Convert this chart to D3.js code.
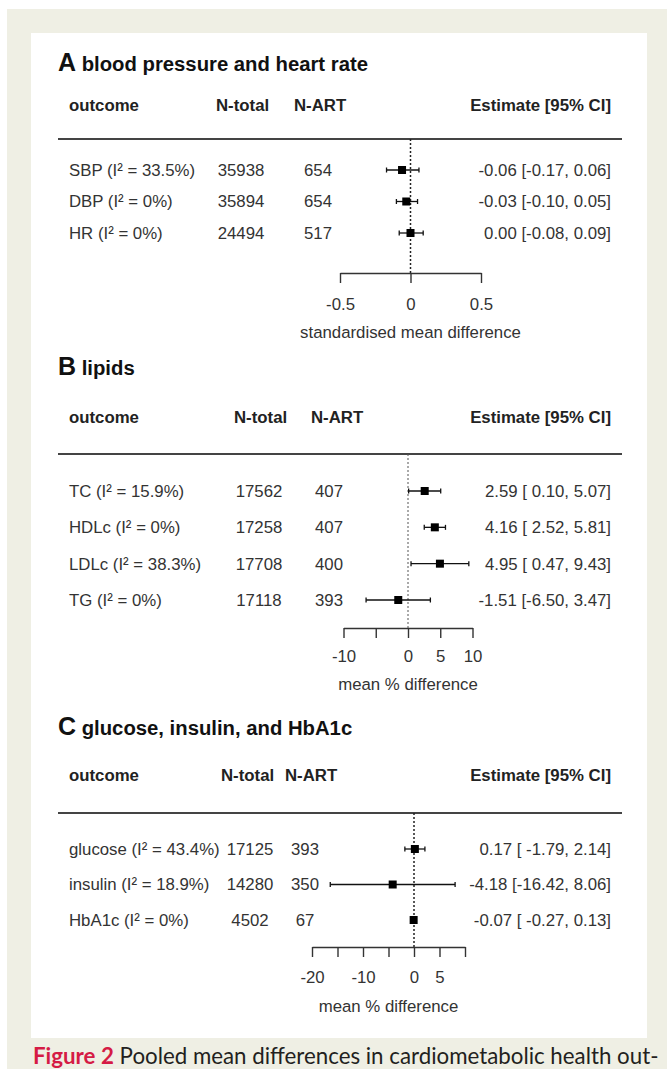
<!DOCTYPE html>
<meta charset="utf-8">
<head>
	<script type="text/javascript" src="https://cdn.jsdelivr.net/npm/d3@7"></script>
	<style>
		body { margin: 0; background: #fff; }
		text { font-family: "Liberation Sans", Arial, sans-serif; white-space: pre; }
	</style>
</head>
<body>
	<svg id="chart" width="667" height="1069"></svg>
</body>
<script type="text/javascript">
	// A: blood pressure and heart rate
	var bpOutcomes = ["SBP", "DBP", "HR"];
	var bpI2 = [33.5, 0, 0];
	var bpNTotal = [35938, 35894, 24494];
	var bpNArt = [654, 654, 517];
	var bpEst = [-0.06, -0.03, 0.00];
	var bpLo = [-0.17, -0.10, -0.08];
	var bpHi = [0.06, 0.05, 0.09];
	var bpTicks = [-0.5, 0, 0.5];
	var bpTickLabels = [-0.5, 0, 0.5];

	// B: lipids
	var lipOutcomes = ["TC", "HDLc", "LDLc", "TG"];
	var lipI2 = [15.9, 0, 38.3, 0];
	var lipNTotal = [17562, 17258, 17708, 17118];
	var lipNArt = [407, 407, 400, 393];
	var lipEst = [2.59, 4.16, 4.95, -1.51];
	var lipLo = [0.10, 2.52, 0.47, -6.50];
	var lipHi = [5.07, 5.81, 9.43, 3.47];
	var lipTicks = [-10, -5, 0, 5, 10];
	var lipTickLabels = [-10, 0, 5, 10];

	// C: glucose, insulin, HbA1c
	var gluOutcomes = ["glucose", "insulin", "HbA1c"];
	var gluI2 = [43.4, 18.9, 0];
	var gluNTotal = [17125, 14280, 4502];
	var gluNArt = [393, 350, 67];
	var gluEst = [0.17, -4.18, -0.07];
	var gluLo = [-1.79, -16.42, -0.27];
	var gluHi = [2.14, 8.06, 0.13];
	var gluTicks = [-20, -15, -10, -5, 0, 5, 10];
	var gluTickLabels = [-20, -10, 0, 5];

	var svg = d3.select("#chart");
	var fs = 16.8;

	// page frame
	svg.append("rect").attr("x", 7).attr("y", 9).attr("width", 660).attr("height", 1060).attr("fill", "#efefe4");
	svg.append("rect").attr("x", 31).attr("y", 33).attr("width", 616).attr("height", 1005).attr("fill", "#fff");

	var panels = [
		{letter: "A", title: "blood pressure and heart rate", outcomes: bpOutcomes, i2: bpI2, ntot: bpNTotal, nart: bpNArt,
		 est: bpEst, lo: bpLo, hi: bpHi, ticks: bpTicks, tickLabels: bpTickLabels, axisTitle: "standardised mean difference",
		 xRange: [340, 481], titleY: 71, headY: 111, ruleY: 139, rows: [170, 233], axisY: 273, pad: 15, axisTitleY: 338,
		 ntHead: 216, ntX: 241, naHead: 294, naX: 318, zeroColor: "#222", zeroWidth: 1.5},
		{letter: "B", title: "lipids", outcomes: lipOutcomes, i2: lipI2, ntot: lipNTotal, nart: lipNArt,
		 est: lipEst, lo: lipLo, hi: lipHi, ticks: lipTicks, tickLabels: lipTickLabels, axisTitle: "mean % difference",
		 xRange: [343.5, 472.5], titleY: 375, headY: 423, ruleY: 454, rows: [491, 600], axisY: 628, pad: 12, axisTitleY: 690,
		 ntHead: 234, ntX: 259, naHead: 311, naX: 329, zeroColor: "#555", zeroWidth: 1},
		{letter: "C", title: "glucose, insulin, and HbA1c", outcomes: gluOutcomes, i2: gluI2, ntot: gluNTotal, nart: gluNArt,
		 est: gluEst, lo: gluLo, hi: gluHi, ticks: gluTicks, tickLabels: gluTickLabels, axisTitle: "mean % difference",
		 xRange: [312, 465], titleY: 735, headY: 781, ruleY: 813, rows: [849, 920], axisY: 947, pad: 14, axisTitleY: 1012,
		 ntHead: 221, ntX: 250, naHead: 285, naX: 305, zeroColor: "#222", zeroWidth: 1.5}
	];

	function fmt(v) { return v.toFixed(2); }
	function padTo(arr) {
		var w = d3.max(arr, function(v) { return fmt(v).length; });
		return arr.map(function(v) { return fmt(v).padStart(w, " "); });
	}

	panels.forEach(function(p) {
		var g = svg.append("g");
		var n = p.outcomes.length;

		var x = d3.scaleLinear().domain(d3.extent(p.ticks)).range(p.xRange);
		var y = d3.scalePoint().domain(d3.range(n)).range(p.rows);

		// title
		var t = g.append("text").attr("x", 58).attr("y", p.titleY).attr("fill", "#111").attr("font-weight", "bold");
		t.append("tspan").attr("font-size", 25).text(p.letter);
		t.append("tspan").attr("font-size", 20.3).text(" " + p.title);

		// header
		var head = g.append("g").attr("font-weight", "bold").attr("font-size", fs).attr("fill", "#222");
		head.append("text").attr("x", 69).attr("y", p.headY).text("outcome");
		head.append("text").attr("x", p.ntHead).attr("y", p.headY).text("N-total");
		head.append("text").attr("x", p.naHead).attr("y", p.headY).text("N-ART");
		head.append("text").attr("x", 611).attr("y", p.headY).attr("text-anchor", "end").text("Estimate [95% CI]");

		g.append("line").attr("x1", 58).attr("x2", 622).attr("y1", p.ruleY).attr("y2", p.ruleY)
			.attr("stroke", "#444").attr("stroke-width", 2);

		// text columns
		var loTxt = padTo(p.lo), hiTxt = padTo(p.hi);
		var rows = g.append("g").attr("font-size", fs).attr("fill", "#333");
		d3.range(n).forEach(function(i) {
			var yy = y(i);
			rows.append("text").attr("x", 69).attr("y", yy).attr("dy", "0.35em")
				.text(p.outcomes[i] + " (I\u00b2 = " + p.i2[i] + "%)");
			rows.append("text").attr("x", p.ntX).attr("y", yy).attr("dy", "0.35em").attr("text-anchor", "middle").text(p.ntot[i]);
			rows.append("text").attr("x", p.naX).attr("y", yy).attr("dy", "0.35em").attr("text-anchor", "middle").text(p.nart[i]);
			rows.append("text").attr("x", 611).attr("y", yy).attr("dy", "0.35em").attr("text-anchor", "end")
				.text(fmt(p.est[i]) + " [" + loTxt[i] + ", " + hiTxt[i] + "]");
		});

		// reference line at zero
		g.append("line").attr("x1", x(0)).attr("x2", x(0)).attr("y1", p.ruleY).attr("y2", p.axisY)
			.attr("stroke", p.zeroColor).attr("stroke-width", p.zeroWidth).attr("stroke-dasharray", "2,2");

		// confidence intervals and estimates
		var ci = g.append("g").attr("stroke", "#111").attr("stroke-width", 1.3);
		d3.range(n).forEach(function(i) {
			var yy = y(i);
			ci.append("line").attr("x1", x(p.lo[i])).attr("x2", x(p.hi[i])).attr("y1", yy).attr("y2", yy);
			ci.append("line").attr("x1", x(p.lo[i])).attr("x2", x(p.lo[i])).attr("y1", yy - 2.5).attr("y2", yy + 2.5);
			ci.append("line").attr("x1", x(p.hi[i])).attr("x2", x(p.hi[i])).attr("y1", yy - 2.5).attr("y2", yy + 2.5);
		});
		g.selectAll("rect.est").data(d3.range(n)).enter().append("rect")
			.attr("x", function(i) { return x(p.est[i]) - 4; })
			.attr("y", function(i) { return y(i) - 4; })
			.attr("width", 8).attr("height", 8).attr("fill", "#000");

		// axis
		var ax = g.append("g").attr("transform", "translate(0," + p.axisY + ")")
			.call(d3.axisBottom(x).tickValues(p.ticks).tickSize(10).tickSizeOuter(0).tickPadding(p.pad)
				.tickFormat(function(v) { return p.tickLabels.indexOf(v) >= 0 ? String(v) : ""; }));
		ax.select(".domain").attr("stroke", "#333").attr("stroke-width", 1.4);
		ax.selectAll(".tick line").attr("stroke", "#333").attr("stroke-width", 1.4);
		ax.selectAll(".tick text").attr("fill", "#333").attr("font-size", fs)
			.attr("font-family", "Liberation Sans, Arial, sans-serif");

		g.append("text").attr("x", (p.xRange[0] + p.xRange[1]) / 2).attr("y", p.axisTitleY)
			.attr("text-anchor", "middle").attr("font-size", fs).attr("fill", "#333").text(p.axisTitle);
	});

	// caption, sized so it spans the same width as in the figure (x 33 -> 660)
	var cap = svg.append("text").attr("x", 33).attr("y", 1064).attr("font-size", 23)
		.style("font-family", "Lato, 'Open Sans', sans-serif");
	cap.append("tspan").attr("font-weight", "bold").attr("fill", "#d51b45").text("Figure 2");
	cap.append("tspan").attr("fill", "#231f20").text(" Pooled mean differences in cardiometabolic health out-");
	var capLen = cap.node().getComputedTextLength();
	cap.attr("font-size", 23 * 626 / capLen);
</script>
